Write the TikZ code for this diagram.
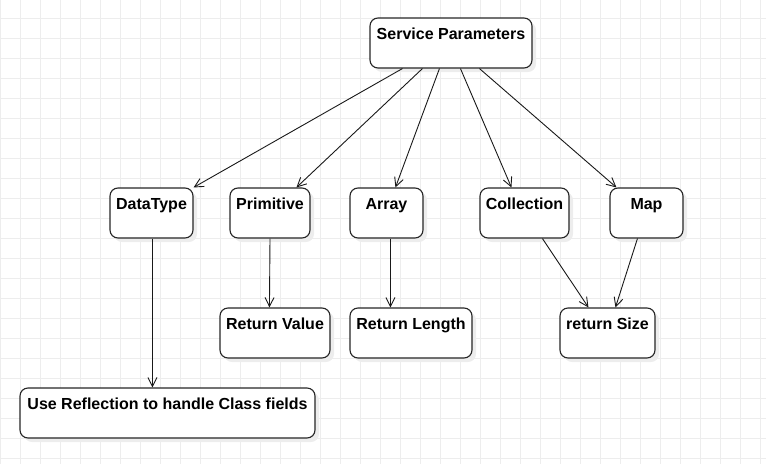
\documentclass[tikz,border=0pt]{standalone}
\usepackage{fontspec}
\setmainfont{Liberation Sans}
\usetikzlibrary{arrows.meta,shadows,calc}

\begin{document}
\begin{tikzpicture}[x=1pt,y=-1pt,line join=round,
  gridline/.style={draw=black!7,line width=.8pt},
  box/.style={draw=black!85,line width=1.1pt,rounded corners=8pt,fill=white,
    font=\bfseries\fontsize{16}{19}\selectfont,inner xsep=0pt,inner ysep=0pt,
    text height=21pt,text depth=29pt,minimum height=50pt,
    drop shadow={shadow xshift=4pt,shadow yshift=-4pt,fill=black!7,opacity=1}},
  link/.style={draw=black!90,line width=.9pt,-{Straight Barb[length=9pt,width=9pt]}}]
\useasboundingbox (0,0) rectangle (766,464);
% background grid
\foreach \i in {0,20,...,760} \draw[gridline] (\i,0) -- (\i,464);
\foreach \j in {18,38,...,458} \draw[gridline] (0,\j) -- (766,\j);
% boxes
\node[box,minimum width=162pt] (sp) at (451,43) {Service Parameters};
\node[box,minimum width=83pt] (dt) at (151.5,213) {DataType};
\node[box,minimum width=80pt] (pr) at (270,213) {Primitive};
\node[box,minimum width=73pt] (ar) at (386.5,213) {Array};
\node[box,minimum width=89pt] (co) at (524.5,213) {Collection};
\node[box,minimum width=73pt] (mp) at (646.5,213) {Map};
\node[box,minimum width=110pt] (rv) at (275,333) {Return Value};
\node[box,minimum width=122pt] (rl) at (411,333) {Return Length};
\node[box,minimum width=95pt] (rs) at (607.5,333) {return Size};
\node[box,minimum width=295pt] (ur) at (167.5,413) {Use Reflection to handle Class fields};
% links
\draw[link] ($(sp.south west)+(33,0)$) -- (dt.north east);
\draw[link] ($(sp.south west)+(53,0)$) -- ($(pr.north west)+(67,0)$);
\draw[link] ($(sp.south west)+(70,0)$) -- ($(ar.north west)+(46,0)$);
\draw[link] ($(sp.south west)+(91,0)$) -- ($(co.north west)+(32,0)$);
\draw[link] ($(sp.south west)+(110,0)$) -- ($(mp.north west)+(7,0)$);
\draw[link] ($(dt.south west)+(43,0)$) -- ($(ur.north west)+(133,0)$);
\draw[link] (pr.south) -- ($(rv.north west)+(50,0)$);
\draw[link] ($(ar.south west)+(41,0)$) -- ($(rl.north west)+(41,0)$);
\draw[link] ($(co.south west)+(63,0)$) -- ($(rs.north west)+(29,0)$);
\draw[link] ($(mp.south west)+(28,0)$) -- ($(rs.north west)+(56,0)$);
\end{tikzpicture}
\end{document}
